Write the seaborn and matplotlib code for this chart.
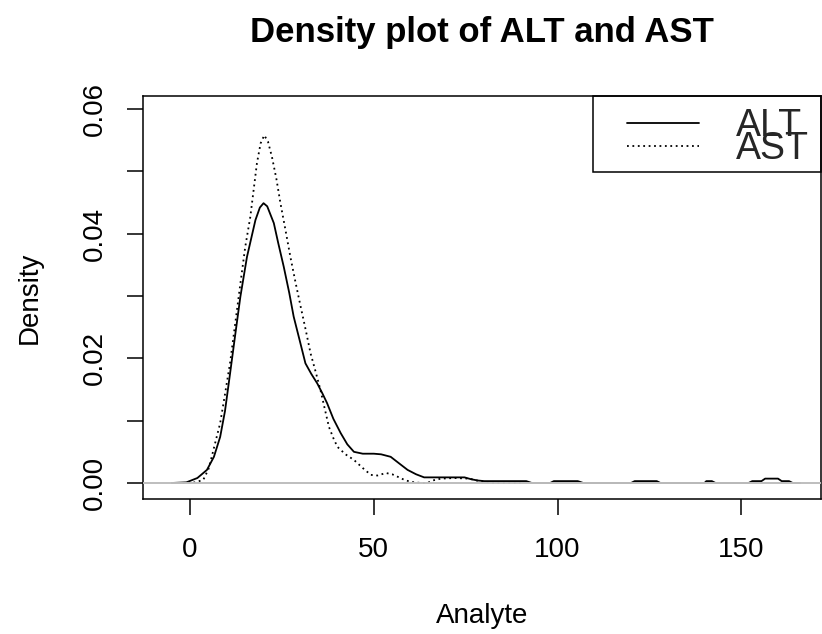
import numpy as np
import pandas as pd
import matplotlib
matplotlib.use("Agg")
import matplotlib.pyplot as plt
from matplotlib.patches import Rectangle
import seaborn as sns

# density curves (x grid, density)
alt_x = [-5, -1, 2, 4.6, 6.5, 8.2, 9.5, 10.9, 12.3, 13.7, 15.5, 17.8, 19, 20, 21,
         22.8, 24, 25.5, 27, 28.2, 30, 31.4, 33, 34.6, 36, 37.3, 39, 41, 42.8, 44.6,
         47, 50, 52, 54.6, 57, 59.2, 61.5, 63.7, 66, 68.2, 71, 74.7, 76.5, 78.3, 80,
         85, 91.5, 93, 98, 99, 105.5, 107, 120, 121, 127, 128, 140, 140.5, 142, 143,
         152, 153, 155.5, 156.5, 160, 161, 163, 164, 166]
alt_y = [0, 0.0001, 0.0008, 0.0021, 0.0042, 0.0074, 0.0115, 0.0176, 0.0238, 0.0299,
         0.0363, 0.0422, 0.0442, 0.0449, 0.0444, 0.0417, 0.0385, 0.0347, 0.0305, 0.0267,
         0.0225, 0.0192, 0.0175, 0.0160, 0.0144, 0.0128, 0.0103, 0.0080, 0.0062, 0.0050,
         0.0047, 0.0047, 0.0046, 0.0042, 0.0031, 0.0021, 0.0014, 0.0009, 0.0009, 0.0009,
         0.0009, 0.0009, 0.0006, 0.0004, 0.0003, 0.0003, 0.0003, 0, 0, 0.0003,
         0.0003, 0, 0, 0.0003, 0.0003, 0, 0, 0.0003, 0.0003, 0,
         0, 0.0003, 0.0003, 0.0007, 0.0007, 0.0003, 0.0003, 0, 0]

ast_x = [-2, 1.4, 3.6, 5, 5.9, 7, 8.2, 9.5, 10.9, 12.3, 13.7, 15, 16.4, 18.2, 19.2,
         20.2, 21.2, 22.3, 23.5, 24.6, 26, 27.3, 28.7, 30.1, 31.5, 32.8, 34.2, 35.5,
         36.7, 37.8, 39, 40.1, 42.3, 44.6, 47, 49.2, 51, 53.3, 55, 56.5, 58.7, 61, 63,
         64.6, 66, 68.3, 72, 76, 78, 80, 82, 90]
ast_y = [0, 0.0001, 0.0005, 0.0022, 0.0042, 0.0068, 0.0096, 0.0142, 0.0193, 0.0256,
         0.0320, 0.0378, 0.0427, 0.0513, 0.0545, 0.0558, 0.0548, 0.0523, 0.0488, 0.0449,
         0.0405, 0.0363, 0.0322, 0.0283, 0.0245, 0.0208, 0.0178, 0.0149, 0.0118, 0.0090,
         0.0072, 0.0058, 0.0046, 0.0037, 0.0024, 0.0013, 0.0012, 0.0016, 0.0014, 0.0010,
         0.0004, 0.0001, 0, 0, 0.0004, 0.0007, 0.0008, 0.0007, 0.0004, 0.0002, 0, 0]

x_ticks = [0, 50, 100, 150]
y_ticks = [0.00, 0.01, 0.02, 0.03, 0.04, 0.05, 0.06]
y_tick_labels = ["0.00", "", "0.02", "", "0.04", "", "0.06"]

sns.set_style("ticks")
plt.rcParams["font.family"] = ["Liberation Sans", "DejaVu Sans"]

df = pd.concat([
    pd.DataFrame({"x": alt_x, "density": alt_y, "analyte": "ALT"}),
    pd.DataFrame({"x": ast_x, "density": ast_y, "analyte": "AST"}),
])

fig = plt.figure(figsize=(8.22, 6.34), dpi=100)
ax = fig.add_axes([143 / 822, 135 / 634, 678 / 822, 403 / 634])

sns.lineplot(data=df, x="x", y="density", hue="analyte", style="analyte",
             palette={"ALT": "black", "AST": "black"},
             dashes={"ALT": "", "AST": (1, 2)},
             sort=False, estimator=None, linewidth=1.3, ax=ax, legend=True)

# abline(h = 0, col = "gray") drawn on top
ax.axhline(0, color="#bebebe", linewidth=1.4, zorder=5)

ax.set_xlim(-12.8, 171.7)
ax.set_ylim(-0.00257, 0.0621)
ax.set_xticks(x_ticks)
ax.set_xticklabels([str(t) for t in x_ticks])
ax.set_yticks(y_ticks)
ax.set_yticklabels(y_tick_labels, rotation=90, va="center")

for s in ax.spines.values():
    s.set_color("black")
    s.set_linewidth(1.1)
ax.tick_params(axis="both", direction="out", length=11.5, width=1.1,
               color="black", labelsize=20, labelcolor="black")
ax.tick_params(axis="x", pad=16)
ax.tick_params(axis="y", pad=14)

ax.set_xlabel("Analyte", fontsize=20, labelpad=29, color="black")
ax.set_ylabel("Density", fontsize=20, labelpad=28, color="black")
ax.set_title("Density plot of ALT and AST", fontsize=25, fontweight="bold",
             pad=39, color="black")

# legend: box drawn separately, entries from the lines
handles, labels = ax.get_legend_handles_labels()
ax.legend(handles, labels, loc="upper left", bbox_to_anchor=(0.714, 0.971),
          frameon=False, fontsize=27, borderpad=0, borderaxespad=0,
          handlelength=1.93, handletextpad=0.96, labelspacing=-0.33)
ax.add_patch(Rectangle((0.6637, 0.8114), 0.3363, 0.1886, transform=ax.transAxes,
                       fill=False, edgecolor="black", linewidth=1.1, zorder=6,
                       clip_on=False))

fig.savefig("out.png", dpi=100)
